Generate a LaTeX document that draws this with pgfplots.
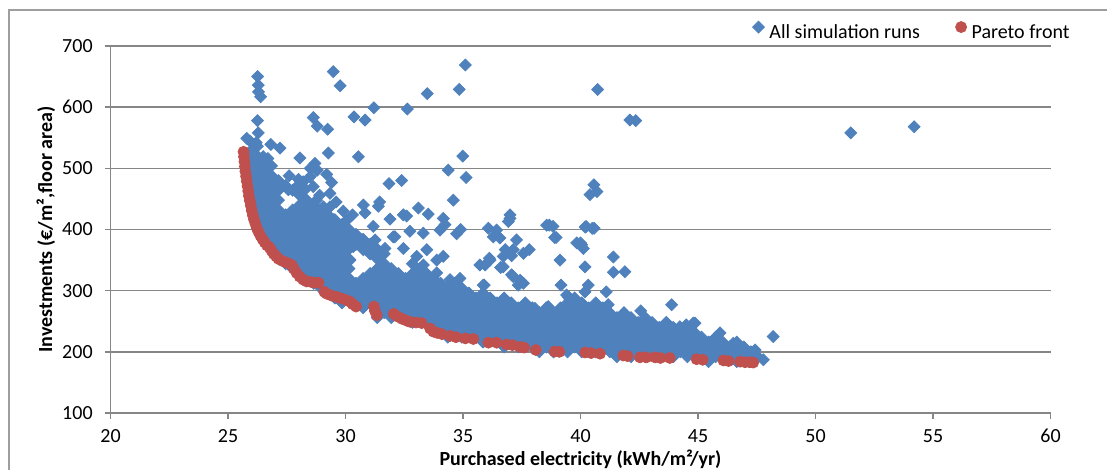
\documentclass[border=0pt]{standalone}
\usepackage{pgfplots}
\pgfplotsset{compat=1.18}
\usepackage{fontspec}
\setmainfont{Carlito}
\definecolor{ser1}{RGB}{79,129,189}
\definecolor{ser2}{RGB}{192,80,77}
\definecolor{gridc}{RGB}{134,134,134}
\begin{document}
\begin{tikzpicture}
\useasboundingbox (0,0) rectangle (553.5pt,235pt);
\draw[gridc!80, line width=0.6pt] (4.5pt,-5pt) -- (4.5pt,230pt) -- (560pt,230pt);
\begin{axis}[
  at={(55.25pt,28.5pt)}, anchor=south west,
  scale only axis, width=470pt, height=183.5pt,
  xmin=20, xmax=60, ymin=100, ymax=700,
  xtick={20,25,...,60}, ytick={100,200,...,700},
  axis x line*=bottom, axis y line*=left,
  axis line style={gridc, line width=0.75pt, -},
  ymajorgrids, grid style={gridc, line width=0.75pt},
  tick align=outside, major tick length=2.8pt,
  tick style={gridc, line width=0.75pt},
  /pgf/number format/assume math mode=true,
  ticklabel style={font=\fontsize{10}{12}\selectfont},
  xticklabel style={yshift=-1.8pt},
  yticklabel style={xshift=-2.6pt},
  xlabel={Purchased electricity (kWh/m²/yr)},
  ylabel={Investments (€/m²,floor area)},
  xlabel style={at={(axis description cs:0.5,-0.1417)}, anchor=base, font=\fontsize{10}{12}\selectfont\bfseries},
  ylabel style={at={(axis description cs:-0.0622,0.5)}, anchor=base, font=\fontsize{10}{12}\selectfont\bfseries},
  legend style={at={(axis description cs:1.0207,1.040)}, anchor=east, draw=none, fill=none, inner sep=0pt,
    font=\fontsize{10}{12}\selectfont, nodes={inner sep=0pt},
    /tikz/every odd column/.append style={column sep=2.5pt},
    /tikz/every even column/.append style={column sep=17.75pt}},
  legend columns=2,
  legend image code/.code={\draw[#1] plot coordinates {(0pt,0.3em)};},
]
\addplot[only marks, mark=square*, mark size=2.1pt, color=ser1, mark options={rotate=45, fill=ser1, draw=ser1}] coordinates {
(25.95,448)(25.95,464)(25.95,480)(25.95,496)(25.95,512)(25.95,528)(25.95,544)
(26.25,408)(26.25,424)(26.25,440)(26.25,456)(26.25,472)(26.25,488)(26.25,504)(26.25,520)(26.25,536)
(26.55,384)(26.55,400)(26.55,416)(26.55,432)(26.55,448)(26.55,464)(26.55,480)(26.55,496)(26.55,512)
(26.85,376)(26.85,392)(26.85,408)(26.85,424)(26.85,440)(26.85,456)(26.85,472)(26.85,488)(26.85,504)
(27.15,352)(27.15,368)(27.15,384)(27.15,400)(27.15,416)(27.15,432)(27.15,448)(27.15,464)(27.15,480)
(27.45,344)(27.45,360)(27.45,376)(27.45,392)(27.45,408)(27.45,424)(27.45,472)
(27.75,336)(27.75,352)(27.75,368)(27.75,384)(27.75,400)(27.75,416)(27.75,432)(27.75,464)
(28.05,328)(28.05,344)(28.05,360)(28.05,376)(28.05,392)(28.05,408)(28.05,424)(28.05,440)(28.05,456)
(28.35,320)(28.35,336)(28.35,352)(28.35,368)(28.35,384)(28.35,400)(28.35,416)(28.35,432)(28.35,448)
(28.65,312)(28.65,328)(28.65,344)(28.65,360)(28.65,376)(28.65,392)(28.65,408)(28.65,424)(28.65,440)
(28.95,304)(28.95,320)(28.95,336)(28.95,352)(28.95,368)(28.95,384)(28.95,400)(28.95,416)(28.95,432)
(29.25,296)(29.25,312)(29.25,328)(29.25,344)(29.25,360)(29.25,376)(29.25,392)(29.25,408)(29.25,424)
(29.55,288)(29.55,304)(29.55,320)(29.55,336)(29.55,352)(29.55,368)(29.55,384)(29.55,400)(29.55,416)
(29.85,280)(29.85,296)(29.85,312)(29.85,328)(29.85,344)(29.85,360)(29.85,376)(29.85,392)(29.85,408)
(30.15,288)(30.15,304)(30.15,320)(30.15,336)(30.15,352)(30.15,368)(30.15,384)(30.15,400)
(30.45,280)(30.45,296)(30.45,312)(30.45,376)(30.45,392)
(30.75,272)(30.75,288)(30.75,304)(30.75,320)(30.75,368)(30.75,384)
(31.05,280)(31.05,296)(31.05,312)(31.05,328)(31.05,360)(31.05,376)
(31.35,256)(31.35,272)(31.35,288)(31.35,304)(31.35,320)(31.35,336)(31.35,352)(31.35,368)
(31.65,264)(31.65,280)(31.65,296)(31.65,312)(31.65,328)(31.65,344)(31.65,360)
(31.95,256)(31.95,272)(31.95,288)(31.95,304)(31.95,320)(31.95,336)
(32.25,264)(32.25,280)(32.25,296)(32.25,312)(32.25,328)
(32.55,256)(32.55,272)(32.55,288)(32.55,304)(32.55,320)
(32.85,248)(32.85,264)(32.85,280)(32.85,296)(32.85,312)(32.85,328)(32.85,344)
(33.15,256)(33.15,272)(33.15,288)(33.15,304)(33.15,320)(33.15,336)
(33.45,248)(33.45,264)(33.45,280)(33.45,296)(33.45,312)(33.45,328)
(33.75,240)(33.75,256)(33.75,272)(33.75,288)(33.75,304)(33.75,320)
(34.05,232)(34.05,248)(34.05,264)(34.05,280)(34.05,296)(34.05,312)
(34.35,224)(34.35,240)(34.35,256)(34.35,272)(34.35,288)(34.35,304)
(34.65,232)(34.65,248)(34.65,264)(34.65,280)(34.65,296)(34.65,312)
(34.95,224)(34.95,240)(34.95,256)(34.95,272)(34.95,288)(34.95,304)
(35.25,232)(35.25,248)(35.25,264)(35.25,280)(35.25,296)
(35.55,224)(35.55,240)(35.55,256)(35.55,272)(35.55,288)
(35.85,216)(35.85,232)(35.85,248)(35.85,264)(35.85,280)(35.85,296)
(36.15,224)(36.15,240)(36.15,256)(36.15,272)(36.15,288)
(36.45,216)(36.45,232)(36.45,248)(36.45,264)(36.45,280)
(36.75,208)(36.75,224)(36.75,240)(36.75,256)(36.75,272)(36.75,288)
(37.05,216)(37.05,232)(37.05,248)(37.05,264)(37.05,280)
(37.35,208)(37.35,224)(37.35,240)(37.35,256)(37.35,272)
(37.65,216)(37.65,232)(37.65,248)(37.65,264)(37.65,280)
(37.95,208)(37.95,224)(37.95,240)(37.95,256)(37.95,272)
(38.25,200)(38.25,216)(38.25,232)(38.25,248)(38.25,264)
(38.55,208)(38.55,224)(38.55,240)(38.55,256)(38.55,272)
(38.85,200)(38.85,216)(38.85,232)(38.85,248)(38.85,264)
(39.15,208)(39.15,224)(39.15,240)(39.15,256)(39.15,272)
(39.45,200)(39.45,216)(39.45,232)(39.45,248)(39.45,264)(39.45,280)
(39.75,208)(39.75,224)(39.75,240)(39.75,256)(39.75,272)(39.75,288)
(40.05,200)(40.05,216)(40.05,232)(40.05,248)(40.05,264)(40.05,280)
(40.35,208)(40.35,224)(40.35,240)(40.35,256)(40.35,272)
(40.65,200)(40.65,216)(40.65,232)(40.65,248)(40.65,264)(40.65,280)
(40.95,208)(40.95,224)(40.95,240)(40.95,256)(40.95,272)
(41.25,200)(41.25,216)(41.25,232)(41.25,248)(41.25,264)
(41.55,192)(41.55,208)(41.55,224)(41.55,240)(41.55,256)
(41.85,200)(41.85,216)(41.85,232)(41.85,248)(41.85,264)
(42.15,192)(42.15,208)(42.15,224)(42.15,240)(42.15,256)
(42.45,200)(42.45,216)(42.45,232)(42.45,248)
(42.75,192)(42.75,208)(42.75,224)(42.75,240)(42.75,256)
(43.05,200)(43.05,216)(43.05,232)(43.05,248)
(43.35,192)(43.35,208)(43.35,224)(43.35,240)
(43.65,200)(43.65,216)(43.65,232)(43.65,248)
(43.95,192)(43.95,208)(43.95,224)(43.95,240)
(44.25,200)(44.25,216)(44.25,232)
(44.55,192)(44.55,208)(44.55,224)(44.55,240)
(44.85,200)(44.85,216)(44.85,232)
(45.15,192)(45.15,208)(45.15,224)
(45.45,184)(45.45,200)(45.45,216)
(45.75,192)(45.75,208)(45.75,224)
(46.05,200)(46.05,216)
(46.35,192)(46.35,208)
(46.65,184)(46.65,200)(46.65,216)
(46.95,192)(46.95,208)
(47.25,184)(47.25,200)
(47.55,192)
(26.26,650)(26.29,636)(26.3,625)(26.39,617)(26.26,578)(26.29,558)(25.8,549)(26.2,542)
(26.82,539)(27.21,533)(26.5,519)(26.7,516)
(29.48,658)(29.77,635)(33.48,622)(34.84,629)(35.1,669)(40.73,629)
(31.21,599)(32.63,597)(30.36,584)(30.83,579)(28.63,583)(28.8,569)(29.24,564)
(42.1,579)(42.35,578)(51.5,558)(54.2,568)
(29.27,525)(28.06,517)(30.55,519)(34.99,520)(28.7,508)(28.8,497)(28.5,500)
(34.37,497)(35.13,485)(29.41,477)(31.85,475)(32.39,480)(34.59,448)
(40.57,473)(40.4,457)(40.7,462)
(27.21,476)(27.57,465)(27.92,470)(28.2,478)(28.49,486)(28.77,497)
(29.34,459)(28.77,448)(29.06,437)(29.34,437)(28.63,470)
(27.6,488)(28.0,482)(28.3,466)(28.9,456)(29.6,445)(29.9,430)(30.3,424)(29.2,490)
(29.34,399)(29.48,416)(30.05,380)(30.33,372)
(30.9,377)(30.76,367)(30.19,350)
(30.76,440)(30.83,427)(30.05,415)(31.4,438)(31.45,445)
(31.89,417)(32.6,422)(33.1,435)(33.52,425)(32.46,424)
(34.16,418)(34.02,399)(34.73,393)(34.9,400)(34.23,408)
(32.1,388)(32.74,397)(33.31,394)
(33.46,367)(32.46,369)(32.03,388)(31.18,405)(31.26,383)(31.68,369)(31.33,367)
(33.03,356)(33.31,342)(33.88,350)(34.16,356)
(33.88,329)(34.45,318)(34.16,307)(34.87,320)
(35.86,309)(35.72,342)(36.15,350)(36.29,388)
(36.08,402)(36.43,399)(36.57,386)(37.28,383)(37.0,418)(36.93,413)(37.0,424)
(37.14,367)(37.57,361)(36.71,356)(36.71,339)(37.14,323)(37.57,312)
(36.8,367)(37.07,357)(37.82,367)(36.12,353)(35.94,342)(36.6,338)
(39.13,350)(41.4,355)(41.4,330)(41.89,331)(40.19,339)
(35.9,309)(37.07,326)(37.35,309)(37.43,317)(39.17,309)
(39.48,290)(39.72,280)(40.19,298)(40.33,309)(41.1,298)
(41.85,263)(42.56,267)(43.88,277)(48.2,225)(47.43,203)(47.78,187)
(45.94,231)(45.72,222)(44.87,247)(44.23,241)(44.5,244)(43.67,247)(43.74,233)(43.1,244)(42.74,247)
(38.06,271)(38.63,274)
(38.56,407)(38.83,405)(38.9,387)(40.24,405)(40.58,402)(39.84,378)(40.12,369)(40.05,375)
(39.41,293)(39.55,285)(39.62,271)(40.12,277)(40.69,271)(41.18,277)(42.1,247)(42.82,241)(44.8,247)(44.52,241)(46.5,214)(46.79,209)
(38.67,407)(38.96,387)(40.2,404)(40.5,402)(40.0,378)
};
\addlegendentry{All simulation runs}
\addplot[only marks, mark=*, mark size=2.75pt, color=ser2, mark options={fill=ser2, draw=ser2}] coordinates {
(25.66,527)(25.68,519)(25.70,511)(25.72,503)(25.74,495)(25.77,487)(25.80,479)(25.83,471)(25.86,463)(25.89,455)
(25.93,447)(25.97,439)(26.01,431)(26.06,423)(26.11,416)(26.17,409)(26.23,402)(26.30,396)(26.38,390)(26.47,384)
(26.56,379)(26.66,374)(26.78,370)(26.86,365)(26.95,360)(27.05,356)(27.15,352)(27.35,348)(27.55,345)(27.71,342)
(27.8,336)(27.92,329)(28.05,323)(28.2,318)(28.35,315)(28.55,314)(28.7,313)(28.85,313)(29.1,298)(29.2,295)
(29.4,292)(29.6,290)(29.77,288)(30.0,285)(30.19,282)(30.3,278)(30.45,274)(31.21,274)(31.25,267)(31.33,260)
(32.05,262)(32.2,258)(32.4,254)(32.6,251)(32.75,249)(33.0,248)(33.24,247)(33.6,238)(33.74,233)(33.9,231)
(34.1,229)(34.45,226)(34.7,224)(35.1,222)(35.44,221)(36.08,215)(36.43,215)(36.86,212)(37.1,211)(37.43,208)
(37.6,207)(38.1,203)(38.9,200.5)(39.1,200)(40.2,199)(40.45,198)(40.83,197)(41.82,194)(42.0,193)(42.53,191)
(42.8,191)(43.17,191)(43.4,190)(43.8,190)(44.94,188)(45.2,187)(46.08,186)(46.3,185)(46.79,184)(47.0,183)
(47.2,183)(47.35,182.5)
};
\addlegendentry{Pareto front}
\end{axis}
\end{tikzpicture}
\end{document}
